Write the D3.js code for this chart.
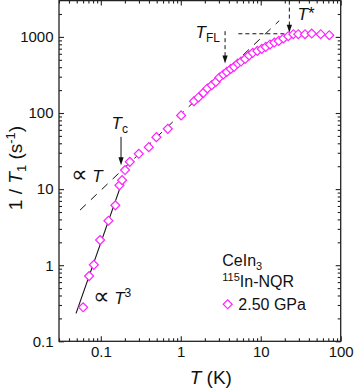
<!DOCTYPE html>
<html><head><meta charset="utf-8">
<script src="https://cdn.jsdelivr.net/npm/d3@7"></script>
<style>body{margin:0;background:#fff}svg{display:block}text{font-family:"Liberation Sans",Arial,Helvetica,sans-serif;fill:#111}</style>
</head><body><svg id="c" width="354" height="389"></svg>
<script>
// ---- data ----
const temps = [0.0601,0.0714,0.0818,0.098,0.1245,0.152,0.171,0.1846,0.201,0.2305,0.2985,0.398,0.4955,0.688,1.01,
  1.466,1.66,1.917,2.15,2.44,2.74,3.04,3.41,3.76,4.22,4.64,5.16,5.67,6.37,7.14,7.94,9.07,10.3,11.55,13.07,14.8,16.8,19.2,22.1,25.6,
  29.5,35.8,43.4,56.2,72];
const rates = [0.28,0.72,1.01,2.14,3.84,6.12,11.2,13.1,17.8,22.8,29.1,35.6,48.2,62,92.9,
  143,160,184,210,232,256,293,321,347,380,404,447,475,514,570,617,655,696,739,795,844,886,953,1021,1085,
  1085,1085,1108,1085,1053];
const xTickValues = [0.1,1,10,100];
const xTickLabels = ["0.1","1","10","100"];
const yTickValues = [0.1,1,10,100,1000];
const yTickLabels = ["0.1","1","10","100","1000"];
const fitT3Temps = [0.049,0.19];
const fitT3Rates = [0.233,13.5];
const fitLinTemps = [0.055,17];
const fitLinRates = [5.3,1630];
const tStarLineTemps = [5.25,22.8];
const tStarLineRates = [1100,1100];
const arrowTemps = [0.179,3.58,22.8];      // Tc, TFL, T*
const arrowFromRates = [48.6,1189,3000];
const arrowToRates = [20.6,447,1130];
const legendLabel = "2.50 GPa";

// ---- scales ----
const W=354,H=389, L=59, R=340.7, T=0.6, B=341.3;
const x = d3.scaleLog().domain([0.03,100]).range([L,R]);
const y = d3.scaleLog().domain([0.1,3000]).range([B,T]);
const svg = d3.select("#c");
const axisColor="#222";

function minorTicks(lo,hi){const a=[];for(let d=-3;d<5;d++){for(let k=2;k<=9;k++){const v=k*Math.pow(10,d);if(v>lo*1.0001&&v<hi*0.9999)a.push(v);}}return a;}
const xMinor = minorTicks(0.03,100).concat([0.03]);
const yMinor = minorTicks(0.1,3000);

function styleAxis(g){g.select(".domain").remove();g.selectAll("line").attr("stroke",axisColor).attr("stroke-width",1.1);g.selectAll("text").style("font-size","15px").attr("fill","#111");}

// bottom
svg.append("g").attr("transform",`translate(0,${B})`).call(d3.axisBottom(x).tickValues(xTickValues).tickSize(-5).tickPadding(5.5).tickFormat((d,i)=>xTickLabels[i])).call(styleAxis);
svg.append("g").attr("transform",`translate(0,${B})`).call(d3.axisBottom(x).tickValues(xMinor).tickSize(-3).tickFormat("")).call(styleAxis);
// top
svg.append("g").attr("transform",`translate(0,${T})`).call(d3.axisTop(x).tickValues(xTickValues).tickSize(-5).tickFormat("")).call(styleAxis);
svg.append("g").attr("transform",`translate(0,${T})`).call(d3.axisTop(x).tickValues(xMinor).tickSize(-3).tickFormat("")).call(styleAxis);
// left
svg.append("g").attr("transform",`translate(${L},0)`).call(d3.axisLeft(y).tickValues(yTickValues).tickSize(-5).tickPadding(5.5).tickFormat((d,i)=>yTickLabels[i])).call(styleAxis);
svg.append("g").attr("transform",`translate(${L},0)`).call(d3.axisLeft(y).tickValues(yMinor).tickSize(-3).tickFormat("")).call(styleAxis);
// right
svg.append("g").attr("transform",`translate(${R},0)`).call(d3.axisRight(y).tickValues(yTickValues).tickSize(-5).tickFormat("")).call(styleAxis);
svg.append("g").attr("transform",`translate(${R},0)`).call(d3.axisRight(y).tickValues(yMinor).tickSize(-3).tickFormat("")).call(styleAxis);

svg.append("rect").attr("x",L).attr("y",T).attr("width",R-L).attr("height",B-T).attr("fill","none").attr("stroke",axisColor).attr("stroke-width",1.3);

// ---- guide lines ----
const line = d3.line().x(d=>x(d[0])).y(d=>y(d[1]));
svg.append("path").attr("d",line(d3.zip(fitLinTemps,fitLinRates))).attr("fill","none").attr("stroke","#111").attr("stroke-width",1).attr("stroke-dasharray","8,7");
svg.append("path").attr("d",line(d3.zip(fitT3Temps,fitT3Rates))).attr("fill","none").attr("stroke","#111").attr("stroke-width",1.1);
svg.append("path").attr("d",line(d3.zip(tStarLineTemps,tStarLineRates))).attr("fill","none").attr("stroke","#111").attr("stroke-width",1).attr("stroke-dasharray","4,3");

// arrows
const arrowDash=[null,"4,3","4,3"];
arrowTemps.forEach((t,i)=>{
  const ax=x(t), y0=y(arrowFromRates[i]), y1=y(arrowToRates[i]);
  svg.append("line").attr("x1",ax).attr("x2",ax).attr("y1",y0).attr("y2",y1-7).attr("stroke","#111").attr("stroke-width",1).attr("stroke-dasharray",arrowDash[i]);
  svg.append("path").attr("d",`M${ax-2.6},${y1-8}L${ax+2.6},${y1-8}L${ax},${y1}Z`).attr("fill","#111");
});

// ---- data markers ----
const diamond = d3.symbol().type(d3.symbolSquare).size(40);
svg.append("g").selectAll("path").data(d3.zip(temps,rates)).join("path")
  .attr("d",diamond).attr("transform",d=>`translate(${x(d[0])},${y(d[1])}) rotate(45)`)
  .attr("fill","#fff").attr("stroke","#ff22ff").attr("stroke-width",1.2);

// ---- annotations ----
function txt(px,py,size){return svg.append("text").attr("x",px).attr("y",py).style("font-size",size+"px");}
let t;
t=txt(111.5,128.5,17); t.append("tspan").text("T").style("font-style","italic"); t.append("tspan").text("c").style("font-size","12px").attr("dy",4);
t=txt(195.5,37.7,17); t.append("tspan").text("T").style("font-style","italic"); t.append("tspan").text("FL").style("font-size","12px").attr("dy",4);
t=txt(297.5,20,17); t.append("tspan").text("T").style("font-style","italic"); t.append("tspan").text("*").attr("dy",-1);
t=txt(71,182,17); t.append("tspan").text("\u221D").style("font-family","DejaVu Sans").style("font-size","23px"); t.append("tspan").text(" T").style("font-style","italic");
t=txt(93,303.5,17); t.append("tspan").text("\u221D").style("font-family","DejaVu Sans").style("font-size","23px"); t.append("tspan").text(" T").style("font-style","italic"); t.append("tspan").text("3").style("font-size","12px").attr("dy",-7);

// legend
t=txt(222.3,266,16); t.append("tspan").text("CeIn"); t.append("tspan").text("3").style("font-size","11px").attr("dy",4);
t=txt(222.3,287.3,16); t.append("tspan").text("115").style("font-size","11px").attr("dy",-6); t.append("tspan").text("In-NQR").attr("dy",6);
svg.append("path").attr("d",diamond).attr("transform",`translate(227.7,304.3) rotate(45)`).attr("fill","#fff").attr("stroke","#ff22ff").attr("stroke-width",1.2);
txt(238.3,309.5,16).text(legendLabel);

// axis titles
t=svg.append("text").attr("x",(L+R)/2+11).attr("y",384).attr("text-anchor","middle").style("font-size","19px");
t.append("tspan").text("T").style("font-style","italic"); t.append("tspan").text(" (K)");
t=svg.append("text").attr("transform","translate(22,168) rotate(-90)").attr("text-anchor","middle").style("font-size","19px");
t.append("tspan").text("1 / "); t.append("tspan").text("T").style("font-style","italic");
t.append("tspan").text("1").style("font-size","13px").attr("dy",4); t.append("tspan").text(" (s").attr("dy",-4);
t.append("tspan").text("-1").style("font-size","13px").attr("dy",-7); t.append("tspan").text(")").attr("dy",7);
</script></body></html>
